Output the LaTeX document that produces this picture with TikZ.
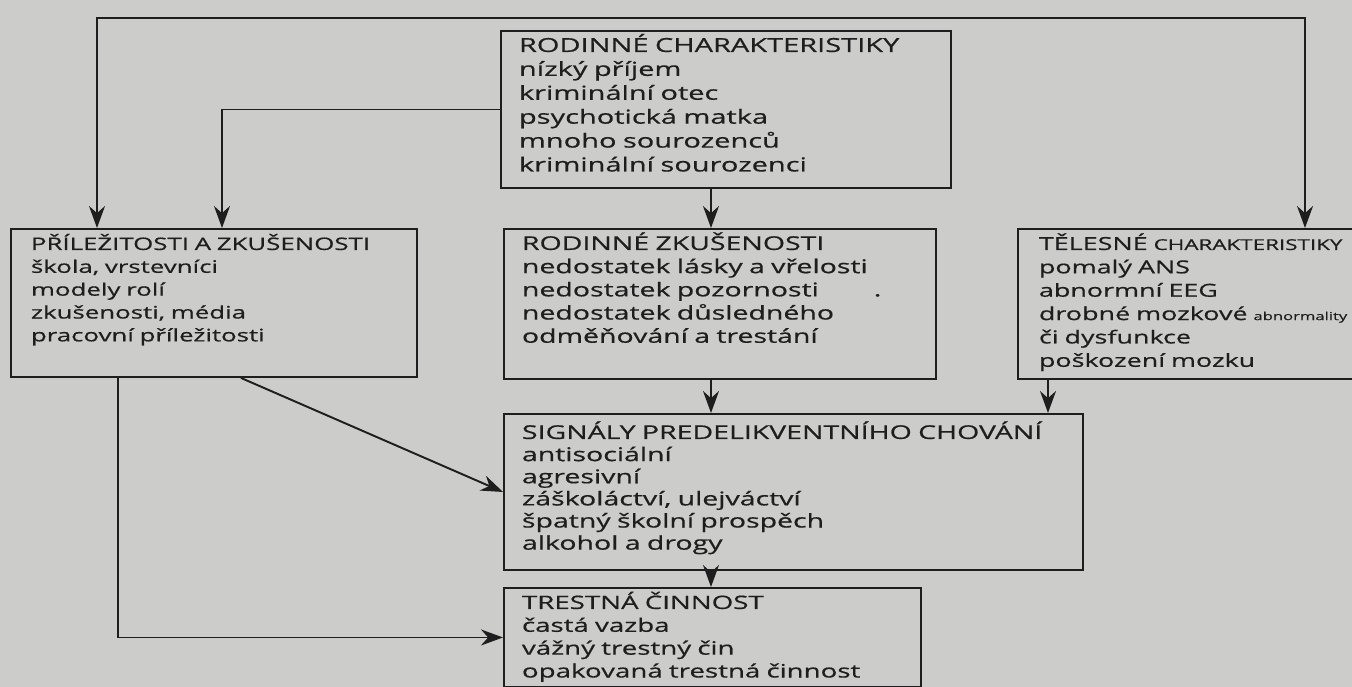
\documentclass[tikz,border=0pt]{standalone}
\usepackage{fontspec}
\setmainfont{Open Sans}[FakeStretch=1.5,FakeBold=0.6]
\usetikzlibrary{arrows.meta}
\definecolor{paper}{RGB}{204,204,202}
\definecolor{ink}{RGB}{30,30,30}
\tikzstyle{box} = [rectangle, anchor=north west, draw=ink, line width=1.1pt, text=ink, align=left, inner xsep=0.36cm, inner ysep=0.12cm, text height=0.3cm, font=\fontsize{10}{13}\selectfont]
\tikzstyle{arrow} = [draw=ink, line width=1.1pt, ->, >={Stealth[length=4.4mm,width=3.2mm]}]

\begin{document}
\begin{tikzpicture}
                \fill [paper] (0,0) rectangle (27.04,-13.74);
                \useasboundingbox (0,0) rectangle (27.04,-13.74);
                % Nodes
                \node (fam) [box, text width=8.28cm, text depth=2.60cm, font=\fontsize{11}{13.6}\selectfont] at (10.0,-0.6) {RODINNÉ CHARAKTERISTIKY\\nízký příjem\\kriminální otec\\psychotická matka\\mnoho sourozenců\\kriminální sourozenci};
                \node (opp) [box, text width=7.32cm, text depth=2.42cm, inner xsep=0.4cm, font=\fontsize{9.8}{13}\selectfont] at (0.2,-4.56) {PŘÍLEŽITOSTI A ZKUŠENOSTI\\škola, vrstevníci\\modely rolí\\zkušenosti, média\\pracovní příležitosti};
                \node (famexp) [box, text width=7.92cm, text depth=2.46cm, font=\fontsize{10.8}{13.2}\selectfont] at (10.06,-4.56) {RODINNÉ ZKUŠENOSTI\\nedostatek lásky a vřelosti\\nedostatek pozornosti\hspace{1.1cm}.\\nedostatek důsledného\\odměňování a trestání};
                \node (body) [box, text width=8cm, text depth=2.46cm, inner xsep=0.42cm, font=\fontsize{10.2}{13.3}\selectfont] at (20.34,-4.56) {TĚLESNÉ {\fontsize{8.5}{13}\selectfont CHARAKTERISTIKY}\\pomalý ANS\\abnormní EEG\\drobné mozkové {\fontsize{6.3}{13}\selectfont abnormality}\\či dysfunkce\\poškození mozku};
                \node (sig) [box, text width=10.86cm, text depth=2.42cm, inner ysep=0.2cm, font=\fontsize{10.8}{12.6}\selectfont] at (10.06,-8.26) {SIGNÁLY PREDELIKVENTNÍHO CHOVÁNÍ\\antisociální\\agresivní\\záškoláctví, ulejváctví\\špatný školní prospěch\\alkohol a drogy};
                \node (crime) [box, text width=7.62cm, text depth=1.44cm, font=\fontsize{10.5}{13}\selectfont] at (10.06,-11.74) {TRESTNÁ ČINNOST\\častá vazba\\vážný trestný čin\\opakovaná trestná činnost};
                \coordinate (topL) at (1.94,-0.36);
                \coordinate (topR) at (26.1,-0.36);
                \coordinate (famL) at (4.44,-2.17);
                \coordinate (midX) at (14.22,0);

                % Arrows
                \draw [arrow, <->] (opp.north -| topL) |- (topR) -- (body.north -| topR);
                \draw [arrow] (fam.west) -| (opp.north -| famL);
                \draw [arrow] (fam.south -| midX) -- (famexp.north -| midX);
                \draw [arrow] (famexp.south -| midX) -- (sig.north -| midX);
                \draw [arrow] ([xshift=0.62cm]body.south west) -- ([xshift=0.62cm]body.south west |- sig.north);
                \draw [arrow] (sig.south -| midX) -- (crime.north -| midX);
                \draw [arrow] ([xshift=0.54cm]opp.south) -- (sig.west);
                \draw [arrow] ([xshift=-1.92cm]opp.south) |- (crime.west);
            \end{tikzpicture}
\end{document}
